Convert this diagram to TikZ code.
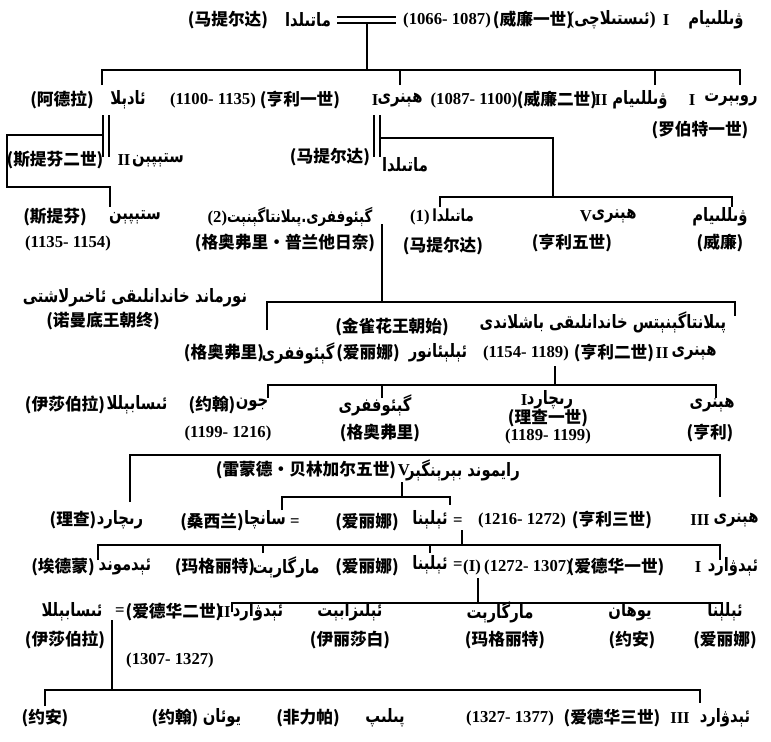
\documentclass[tikz,border=0pt]{standalone}
\usepackage{fontspec}
\setmainfont{Liberation Serif}
\newfontfamily\zhfont{Noto Sans CJK SC}
\newfontfamily\ugfont[Script=Arabic, FakeStretch=0.8]{DejaVu Sans}
\TeXXeTstate=1
\newcommand{\ug}[1]{{\ugfont\bfseries\beginR #1\endR}}
\usetikzlibrary{positioning}

\begin{document}
\begin{tikzpicture}[
    x=0.02cm, y=-0.02cm,
    txt/.style={inner sep=0pt, font=\bfseries\fontsize{9.5}{11}\selectfont},
    zh/.style={txt, font=\zhfont\bfseries\fontsize{9.5}{11}\selectfont},
    yr/.style={txt, font=\bfseries\fontsize{9.5}{11}\selectfont},
    ugn/.style={txt, font=\ugfont\bfseries\fontsize{10.5}{12}\selectfont,
                execute at begin node=\beginR, execute at end node=\endR},
    link/.style={line width=1.5pt},
    wed/.style={double, line width=1.3pt, double distance=2.4pt}
  ]
    \useasboundingbox (0,0) rectangle (771,741);

    % William I and Matilda
    \node[zh] (mat0zh) at (228,20) {(马提尔达)};
    \node[ugn] (mat0) at (308,20) {ماتىلدا};
    \node[yr] (will1yr) at (447,20) {(1066- 1087)};
    \node[zh] (will1zh) at (533,20) {(威廉一世)};
    \node[txt,font=\bfseries\fontsize{10.5}{12}\selectfont] (will1ep) at (612,20) {(\ug{ئىستىلاچى})};
    \node[yr] (will1no) at (666,20) {I};
    \node[ugn] (will1) at (716,20) {ۋىللىيام};
    \draw[wed] (337,20) coordinate (w0a) -- (396,20) coordinate (w0b);
    \coordinate (w0v) at (367,24);
    \coordinate (b1) at (367,70);
    \draw[link] (w0v) -- (b1);

    % children of William I
    \node[zh] (adelazh) at (62,100) {(阿德拉)};
    \node[ugn] (adela) at (128,100) {ئادېلا};
    \node[yr] (hen1yr) at (213,100) {(1100- 1135)};
    \node[zh] (hen1zh) at (300,100) {(亨利一世)};
    \node[yr] (hen1no) at (375,100) {I};
    \node[ugn] (hen1) at (400,100) {ھېنرى};
    \node[yr] (will2yr) at (474,100) {(1087- 1100)};
    \node[zh] (will2zh) at (557,100) {(威廉二世)};
    \node[yr] (will2no) at (601,100) {II};
    \node[ugn] (will2) at (640,100) {ۋىللىيام};
    \node[yr] (rob1no) at (692,100) {I};
    \node[ugn] (rob1) at (731,100) {روبېرت};
    \node[zh] (rob1zh) at (700,130) {(罗伯特一世)};
    \coordinate (adelat) at (102,85);
    \coordinate (rob1t) at (740,85);
    \coordinate (hen1t) at (400,85);
    \coordinate (will2t) at (655,85);
    \draw[link] (adelat) |- (b1) -| (rob1t);
    \foreach \t in {hen1t, will2t}
      \draw[link] (\t) -- (\t |- b1);

    % Adela and Stephen
    \draw[wed] (106,115) coordinate (adm1) -- (106,157) coordinate (adm2);
    \coordinate (stb1) at (102,135);
    \coordinate (stb2) at (7,187);
    \coordinate (stb3) at (110,207);
    \draw[link] (stb1) -| (stb2) -| (stb3);
    \node[zh] (steph2zh) at (55,160) {(斯提芬二世)};
    \node[yr] (steph2no) at (124,160) {II};
    \node[ugn] (steph2) at (158,160) {ستېپېن};

    % Henry I and Matilda
    \draw[wed] (377,115) coordinate (hm1) -- (377,157) coordinate (hm2);
    \node[zh] (mat1zh) at (330,157) {(马提尔达)};
    \node[ugn] (mat1) at (405,165) {ماتىلدا};
    \coordinate (hm3) at (381,138);
    \coordinate (hjoin) at (553,197);
    \coordinate (mat2t) at (440,207);
    \coordinate (will3t) at (732,207);
    \draw[link] (hm3) -| (hjoin);
    \draw[link] (mat2t) |- (hjoin) -| (will3t);

    % grandchildren
    \node[zh] (stephzh) at (55,217) {(斯提芬)};
    \node[ugn] (steph) at (135,217) {ستېپېن};
    \node[yr] (stephyr) at (68,243) {(1135- 1154)};
    \node[txt] (geof1) at (290,217) {(2)\ug{گېئوففرى.پىلانتاگېنېت}};
    \node[zh] (geof1zh) at (285,243) {(格奥弗里·普兰他日奈)};
    \node[txt] (mat2) at (442,217) {(1)\,\ug{ماتىلدا}};
    \node[zh] (mat2zh) at (443,246) {(马提尔达)};
    \node[yr] (hen5no) at (586,216) {V};
    \node[ugn] (hen5) at (614,216) {ھېنرى};
    \node[zh] (hen5zh) at (572,243) {(亨利五世)};
    \node[ugn] (will3) at (720,217) {ۋىللىيام};
    \node[zh] (will3zh) at (720,243) {(威廉)};

    % Plantagenet
    \coordinate (gv1) at (382,224);
    \coordinate (gv2) at (382,302);
    \coordinate (anj1) at (267,330);
    \coordinate (anj2) at (735,316);
    \draw[link] (gv1) -- (gv2);
    \draw[link] (anj1) |- (gv2) -| (anj2);
    \node[ugn] (normug) at (135,298) {نورماند خاندانلىقى ئاخىرلاشتى};
    \node[zh] (normzh) at (103,321) {(诺曼底王朝终)};
    \node[zh] (plantzh) at (392,327) {(金雀花王朝始)};
    \node[ugn] (plantug) at (603,322) {پىلانتاگېنېتس خاندانلىقى باشلاندى};

    % Henry II
    \node[zh] (geof2zh) at (224,353) {(格奥弗里)};
    \node[ugn] (geof2) at (298,353) {گېئوففرى};
    \node[zh] (elea1zh) at (368,353) {(爱丽娜)};
    \node[ugn] (elea1) at (438,353) {ئېلېئانور};
    \node[yr] (hen2yr) at (526,353) {(1154- 1189)};
    \node[zh] (hen2zh) at (614,353) {(亨利二世)};
    \node[yr] (hen2no) at (662,353) {II};
    \node[ugn] (hen2) at (694,353) {ھېنرى};
    \coordinate (hen2v) at (555,366);
    \coordinate (hen2j) at (555,385);
    \coordinate (john1t) at (268,398);
    \coordinate (geof3t) at (382,398);
    \coordinate (hen3t) at (716,398);
    \draw[link] (hen2v) -- (hen2j);
    \draw[link] (john1t) |- (hen2j) -| (hen3t);
    \draw[link] (geof3t) -- (geof3t |- hen2j);

    % children of Henry II
    \node[zh] (isab1zh) at (65,405) {(伊莎伯拉)};
    \node[ugn] (isab1) at (137,405) {ئىسابېللا};
    \node[zh] (john1zh) at (212,405) {(约翰)};
    \node[ugn] (john1) at (252,405) {جون};
    \node[yr] (john1yr) at (228,433) {(1199- 1216)};
    \node[ugn] (geof3) at (375,405) {گېئوففرى};
    \node[zh] (geof3zh) at (380,433) {(格奥弗里)};
    \node[yr] (rich1no) at (524,400) {I};
    \node[ugn] (rich1) at (550,400) {رىچارد};
    \node[zh] (rich1zh) at (548,418) {(理查一世)};
    \node[yr] (rich1yr) at (548,436) {(1189- 1199)};
    \node[ugn] (hen3) at (712,405) {ھېنرى};
    \node[zh] (hen3zh) at (710,433) {(亨利)};

    % children of John
    \coordinate (jbar) at (400,455);
    \coordinate (rich2t) at (130,502);
    \coordinate (hen4t) at (720,497);
    \draw[link] (rich2t) |- (jbar) -| (hen4t);
    \node[zh] (raymzh) at (306,470) {(雷蒙德·贝林加尔五世)};
    \node[yr] (raymno) at (404,470) {V};
    \node[ugn] (raym) at (463,470) {رايموند بېرېنگېر};
    \coordinate (raymv) at (402,482);
    \coordinate (rbar) at (402,497);
    \coordinate (sanc1t) at (282,510);
    \coordinate (elea2t) at (450,505);
    \draw[link] (raymv) -- (rbar);
    \draw[link] (sanc1t) |- (rbar) -| (elea2t);

    \node[zh] (rich2zh) at (73,520) {(理查)};
    \node[ugn] (rich2) at (120,520) {رىچارد};
    \node[zh] (sanc1zh) at (212,522) {(桑西兰)};
    \node[ugn] (sanc1) at (265,520) {سانچا};
    \node[yr] (sanc1eq) at (295,523) {=};
    \node[zh] (elea2zh) at (367,522) {(爱丽娜)};
    \node[ugn] (elea2) at (430,520) {ئېلېنا};
    \node[yr] (elea2eq) at (458,522) {=};
    \node[yr] (hen4yr) at (522,520) {(1216- 1272)};
    \node[zh] (hen4zh) at (612,520) {(亨利三世)};
    \node[yr] (hen4no) at (700,520) {III};
    \node[ugn] (hen4) at (736,520) {ھېنرى};

    % children of Henry III
    \coordinate (hen4v) at (462,530);
    \coordinate (hbar) at (462,545);
    \coordinate (edm1t) at (98,560);
    \coordinate (edw1t) at (720,560);
    \coordinate (marg1t) at (263,553);
    \coordinate (elea3t) at (430,553);
    \draw[link] (hen4v) -- (hbar);
    \draw[link] (edm1t) |- (hbar) -| (edw1t);
    \foreach \t in {marg1t, elea3t}
      \draw[link] (\t) -- (\t |- hbar);

    \node[zh] (edm1zh) at (63,567) {(埃德蒙)};
    \node[ugn] (edm1) at (125,567) {ئېدموند};
    \node[zh] (marg1zh) at (215,567) {(玛格丽特)};
    \node[ugn] (marg1) at (286,567) {مارگارېت};
    \node[zh] (elea3zh) at (367,567) {(爱丽娜)};
    \node[ugn] (elea3) at (430,565) {ئېلېنا};
    \node[yr] (elea3eq) at (458,566) {=};
    \node[yr] (edw1n) at (472,567) {(I)};
    \node[yr] (edw1yr) at (528,567) {(1272- 1307)};
    \node[zh] (edw1zh) at (616,567) {(爱德华一世)};
    \node[yr] (edw1no) at (698,567) {I};
    \node[ugn] (edw1) at (733,567) {ئېدۋارد};

    % children of Edward I
    \coordinate (edw1v) at (478,578);
    \coordinate (ebar) at (478,603);
    \coordinate (edw2t) at (232,612);
    \coordinate (elea4t) at (722,612);
    \draw[link] (edw1v) -- (ebar);
    \draw[link] (edw2t) |- (ebar) -| (elea4t);

    \node[ugn] (isab2) at (72,612) {ئىسابېللا};
    \node[yr] (isab2eq) at (120,612) {=};
    \node[zh] (edw2zh) at (174,612) {(爱德华二世)};
    \node[yr] (edw2no) at (224,612) {II};
    \node[ugn] (edw2) at (258,612) {ئېدۋارد};
    \node[ugn] (eliz) at (350,612) {ئېلىزابېت};
    \node[ugn] (marg2) at (500,612) {مارگارېت};
    \node[ugn] (joan1) at (630,612) {يوھان};
    \node[ugn] (elea4) at (725,612) {ئېلېنا};
    \node[zh] (isab2zh) at (65,640) {(伊莎伯拉)};
    \node[zh] (elizzh) at (350,640) {(伊丽莎白)};
    \node[zh] (marg2zh) at (505,640) {(玛格丽特)};
    \node[zh] (joan1zh) at (632,640) {(约安)};
    \node[zh] (elea4zh) at (725,640) {(爱丽娜)};
    \node[yr] (edw2yr) at (170,660) {(1307- 1327)};

    % children of Edward II
    \coordinate (isab2v) at (112,620);
    \coordinate (ibar) at (112,690);
    \coordinate (joan2t) at (45,706);
    \coordinate (edw3t) at (700,703);
    \draw[link] (isab2v) -- (ibar);
    \draw[link] (joan2t) |- (ibar) -| (edw3t);

    \node[zh] (joan2zh) at (45,718) {(约安)};
    \node[zh] (john2zh) at (175,718) {(约翰)};
    \node[ugn] (john2) at (222,718) {يوئان};
    \node[zh] (philzh) at (308,718) {(非力帕)};
    \node[ugn] (phil) at (385,718) {پىلىپ};
    \node[yr] (edw3yr) at (510,718) {(1327- 1377)};
    \node[zh] (edw3zh) at (612,718) {(爱德华三世)};
    \node[yr] (edw3no) at (680,718) {III};
    \node[ugn] (edw3) at (725,718) {ئېدۋارد};
  \end{tikzpicture}
\end{document}
